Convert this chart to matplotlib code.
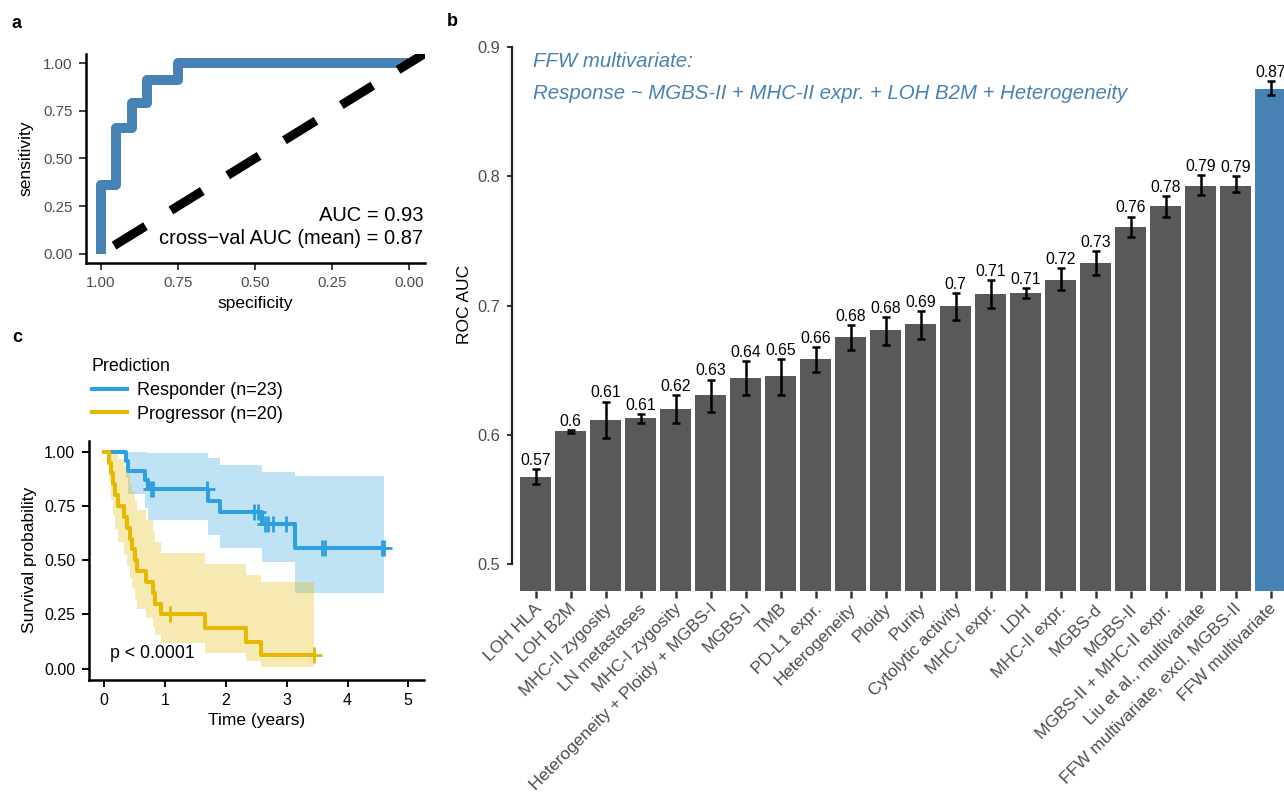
import numpy as np
import matplotlib
matplotlib.use("Agg")
import matplotlib.pyplot as plt
from matplotlib.lines import Line2D
from matplotlib.transforms import ScaledTranslation

plt.rcParams['font.family'] = ['Liberation Sans', 'DejaVu Sans']

# ---- panel a: ROC curve ----
roc_spec = [1.0, 1.0, 0.95, 0.95, 0.90, 0.90, 0.85, 0.85, 0.75, 0.75, 0.0]
roc_sens = [0.0, 0.36, 0.36, 0.66, 0.66, 0.79, 0.79, 0.91, 0.91, 1.0, 1.0]
auc_text = "AUC = 0.93"
cv_text = "cross\u2212val AUC (mean) = 0.87"

# ---- panel b: ROC AUC per feature ----
features = ["LOH HLA", "LOH B2M", "MHC-II zygosity", "LN metastases", "MHC-I zygosity",
            "Heterogeneity + Ploidy + MGBS-I", "MGBS-I", "TMB", "PD-L1 expr.", "Heterogeneity",
            "Ploidy", "Purity", "Cytolytic activity", "MHC-I expr.", "LDH", "MHC-II expr.",
            "MGBS-d", "MGBS-II", "MGBS-II + MHC-II expr.", "Liu et al., multivariate",
            "FFW multivariate, excl. MGBS-II", "FFW multivariate"]
auc = [0.568, 0.603, 0.612, 0.613, 0.620, 0.631, 0.644, 0.646, 0.659, 0.676, 0.681,
       0.686, 0.700, 0.709, 0.710, 0.720, 0.733, 0.761, 0.777, 0.793, 0.793, 0.868]
auc_lo = [0.562, 0.602, 0.598, 0.609, 0.609, 0.618, 0.631, 0.631, 0.649, 0.666, 0.670,
          0.674, 0.689, 0.698, 0.706, 0.712, 0.724, 0.753, 0.769, 0.786, 0.788, 0.863]
auc_hi = [0.574, 0.604, 0.626, 0.616, 0.631, 0.643, 0.657, 0.659, 0.668, 0.685, 0.691,
          0.696, 0.710, 0.720, 0.714, 0.729, 0.742, 0.769, 0.785, 0.801, 0.800, 0.874]
model_line1 = "FFW multivariate:"
model_line2 = "Response ~ MGBS-II + MHC-II expr. + LOH B2M + Heterogeneity"

# ---- panel c: Kaplan-Meier ----
resp_t = [0, 0.35, 0.39, 0.67, 0.72, 1.70, 1.90, 2.60, 3.14, 4.60]
resp_s = [1, 0.957, 0.913, 0.870, 0.826, 0.774, 0.723, 0.667, 0.556, 0.556]
resp_lo = [1, 0.877, 0.805, 0.742, 0.685, 0.618, 0.555, 0.491, 0.347, 0.347]
resp_hi = [1, 1.0, 1.0, 1.0, 0.996, 0.971, 0.941, 0.907, 0.890, 0.890]
resp_cens = [0.77, 0.80, 1.69, 2.47, 2.52, 2.64, 2.70, 2.78, 2.99, 3.58, 3.63, 4.57, 4.60]

prog_t = [0, 0.08, 0.11, 0.15, 0.18, 0.22, 0.33, 0.38, 0.43, 0.46, 0.50, 0.54, 0.68,
          0.80, 0.84, 0.93, 1.66, 2.33, 2.57, 3.45]
prog_s = [1, 0.95, 0.90, 0.85, 0.80, 0.75, 0.70, 0.65, 0.60, 0.55, 0.50, 0.45, 0.40,
          0.35, 0.30, 0.25, 0.1875, 0.125, 0.0625, 0.0625]
prog_lo = [1, 0.859, 0.778, 0.707, 0.643, 0.582, 0.526, 0.471, 0.420, 0.370, 0.323, 0.277,
           0.234, 0.193, 0.154, 0.117, 0.073, 0.036, 0.010, 0.010]
prog_hi = [1, 1.0, 1.0, 1.0, 0.996, 0.966, 0.932, 0.897, 0.858, 0.818, 0.775, 0.730,
           0.685, 0.636, 0.586, 0.534, 0.483, 0.432, 0.401, 0.401]
prog_cens = [1.08, 3.45]
groups = ["Responder (n=23)", "Progressor (n=20)"]

W, H = 1284, 794
fig = plt.figure(figsize=(W / 100, H / 100), dpi=100)


def box(l, t, r, b):
    return [l / W, 1 - b / H, (r - l) / W, (b - t) / H]


GREY30 = "#4D4D4D"
STEEL = "#4682B4"

# ================= a =================
axa = fig.add_axes(box(85.6, 53.5, 424.7, 263.2))
axa.plot(roc_spec, roc_sens, color=STEEL, lw=7.2, solid_joinstyle="round",
         solid_capstyle="butt", zorder=2)
axa.plot([1.04, -0.06], [-0.04, 1.06], color="black", lw=6.5,
         linestyle=(4.1, (4.1, 3.3)), dash_capstyle="butt", zorder=3)
axa.set_xlim(1.05, -0.05)
axa.set_ylim(-0.05, 1.05)
tk = [1.0, 0.75, 0.5, 0.25, 0.0]
axa.set_xticks(tk, ["%.2f" % v for v in tk])
axa.set_yticks(tk, ["%.2f" % v for v in tk])
for s in ["top", "right"]:
    axa.spines[s].set_visible(False)
for s in ["left", "bottom"]:
    axa.spines[s].set_linewidth(1.8)
axa.tick_params(length=5.2, width=1.3, color="#333333", labelsize=10.8,
                labelcolor=GREY30, pad=4)
axa.set_xlabel("specificity", fontsize=12.5, labelpad=4)
axa.set_ylabel("sensitivity", fontsize=12.5, labelpad=7)
axa.text(-0.045, 0.20, auc_text, ha="right", va="center", fontsize=14.5)
axa.text(-0.045, 0.08, cv_text, ha="right", va="center", fontsize=14.5)

# ================= b =================
axb = fig.add_axes(box(512, 20, 1284, 590.7))
xb = np.arange(len(features))
auc_a = np.array(auc)
bar_cols = ["#595959"] * (len(features) - 1) + [STEEL]
axb.bar(xb, auc_a, width=0.9, color=bar_cols, zorder=1)
axb.errorbar(xb, auc_a, yerr=[auc_a - np.array(auc_lo), np.array(auc_hi) - auc_a],
             fmt="none", ecolor="black", elinewidth=1.8, capsize=2.9, capthick=1.8, zorder=2)
for xi, v, h in zip(xb, auc, auc_hi):
    axb.annotate(f"{round(v, 2):g}", (xi, h), xytext=(0, 3), textcoords="offset points",
                 ha="center", va="baseline", fontsize=11.3)
axb.set_xlim(-0.677, 21.38)
axb.set_ylim(0.4797, 0.921)
for s in ["top", "right", "bottom"]:
    axb.spines[s].set_visible(False)
axb.spines["left"].set_bounds(0.5, 0.9)
axb.spines["left"].set_linewidth(1.6)
axb.spines["left"].set_color("#222222")
yt = [0.5, 0.6, 0.7, 0.8, 0.9]
axb.set_yticks(yt, [f"{v:g}" for v in yt])
axb.tick_params(axis="y", length=3.8, width=1.4, color="#333333", labelsize=11.8,
                labelcolor=GREY30, pad=4.5)
axb.set_xticks(xb)
axb.set_xticklabels(features, rotation=45, ha="right", va="top", rotation_mode="anchor",
                    fontsize=12.5, color=GREY30)
axb.tick_params(axis="x", length=5, width=1.8, color="#333333", pad=2.5)
off = ScaledTranslation(-0.02, 0, fig.dpi_scale_trans)
for lab in axb.get_xticklabels():
    lab.set_transform(lab.get_transform() + off)
axb.set_ylabel("ROC AUC", fontsize=12.5)
axb.yaxis.set_label_coords(-0.052, 0.501)
axb.text(-0.077, 0.8886, model_line1, color=STEEL, style="italic", fontsize=14.7,
         ha="left", va="center")
axb.text(-0.077, 0.8639, model_line2, color=STEEL, style="italic", fontsize=14.7,
         ha="left", va="center")

# ================= c =================
BLUE, GOLD = "#2E9FDF", "#E7B800"
axc = fig.add_axes(box(89.1, 440.85, 423.5, 679.55))
curves = [(resp_t, resp_s, resp_lo, resp_hi, resp_cens, BLUE),
          (prog_t, prog_s, prog_lo, prog_hi, prog_cens, GOLD)]
for t, s, lo, hi, cens, col in curves:
    axc.fill_between(t, lo, hi, step="post", color=col, alpha=0.3, lw=0, zorder=1)
for t, s, lo, hi, cens, col in curves:
    axc.step(t, s, where="post", color=col, lw=2.9, zorder=3)
    idx = np.searchsorted(t, cens, side="right") - 1
    axc.plot(cens, np.array(s)[idx], ls="none", marker="+", ms=12, mew=2.0, color=col, zorder=4)
axc.set_xlim(-0.25, 5.25)
axc.set_ylim(-0.05, 1.05)
axc.set_xticks(range(6))
yc = [0.0, 0.25, 0.5, 0.75, 1.0]
axc.set_yticks(yc, ["%.2f" % v for v in yc])
for s in ["top", "right"]:
    axc.spines[s].set_visible(False)
for s in ["left", "bottom"]:
    axc.spines[s].set_linewidth(1.8)
axc.tick_params(length=5, width=1.4, color="black", labelsize=11.5, labelcolor="black", pad=5)
axc.set_xlabel("Time (years)", fontsize=12.5, labelpad=3)
axc.set_ylabel("Survival probability", fontsize=12.5, labelpad=5)
axc.text(0.1, 0.07, "p < 0.0001", fontsize=12.8, ha="left", va="center")

handles = [Line2D([], [], color=BLUE, lw=2.9), Line2D([], [], color=GOLD, lw=2.9)]
leg = fig.legend(handles, groups, title="Prediction", loc="upper left",
                 bbox_to_anchor=(92 / W, 1 - 358 / H), frameon=False, fontsize=13,
                 title_fontsize=12.8, handlelength=1.95, handletextpad=0.55, labelspacing=0.38,
                 borderpad=0, borderaxespad=0, alignment="left")

# panel letters
for letter, px, py in [("a", 16.5, 23), ("b", 452, 21), ("c", 17, 338)]:
    fig.text(px / W, 1 - py / H, letter, fontsize=13, fontweight="bold", ha="center", va="center")

fig.savefig("out.png", dpi=100)
